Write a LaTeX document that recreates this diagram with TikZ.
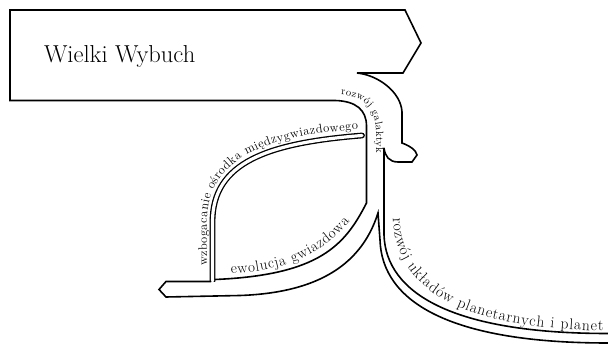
\documentclass[tikz,border=0pt]{standalone}
\usepackage{tikz}
\usetikzlibrary{decorations.text}

\begin{document}
\begin{tikzpicture}[
  x=1pt, y=-1pt,
  edge/.style={black, line width=1.6pt},
  thread/.style={draw=black, double=white, line width=1.3pt, double distance=3.2pt, line cap=round},
  pathtext/.style={decorate, decoration={text along path, text align={fit to path}, text={#1}}}
]
\useasboundingbox (0,0) rectangle (608,347);
% enrichment thread
\draw[thread] (212.5,281) -- (212.5,222) .. controls (212.5,162) and (268,143) .. (362,135.5);
\fill[white] (208.5,282.4) rectangle (216.5,288);
% big bang box and galaxy stream
\draw[edge] (215,279.5) .. controls (320,275) and (345,245) .. (366.5,203)
  -- (366.5,126) .. controls (366.5,110) and (356,101) .. (335,100.5)
  -- (10,100.5) -- (10,10) -- (405,10) -- (421,43) -- (403,73) -- (357,73)
  .. controls (378,75) and (401,92) .. (402,112) -- (402,143)
  .. controls (410,146) and (416,150) .. (417,155) -- (412,162) -- (398,162)
  .. controls (389,162) and (385,156) .. (384,148);
% stellar branch and planets
\draw[edge] (211,281.5) -- (166,281.5) -- (159,289.5) -- (166,297) -- (240,295.5)
  .. controls (310,293) and (360,270) .. (378,213)
  -- (380,240) .. controls (382,302) and (450,343) .. (608,343);
\draw[edge] (384,148) -- (384,235) .. controls (386,293) and (452,333.5) .. (608,333.5);
% labels
\node[anchor=base west, font=\fontsize{24.5}{28}\selectfont] (bigbang) at (40.5,62.3) {Wielki Wybuch};
\path[pathtext={|\fontsize{10.5}{12}\selectfont|rozwój galaktyk}]
  (341,95) .. controls (364,96) and (376,110) .. (376,132) -- (376,153);
\path[pathtext={|\fontsize{12.5}{14}\selectfont|wzbogacanie ośrodka międzygwiazdowego}]
  (207,266) -- (207,222) .. controls (207,160) and (262,136) .. (358,129.5);
\path[pathtext={|\fontsize{15}{18}\selectfont|ewolucja gwiazdowa}]
  (231,273.5) .. controls (308,269) and (330,242) .. (350,222);
\path[pathtext={|\fontsize{15.5}{18}\selectfont|rozwój układów planetarnych i planet}]
  (393,218) .. controls (395,290) and (460,328) .. (603,331);
\end{tikzpicture}
\end{document}
